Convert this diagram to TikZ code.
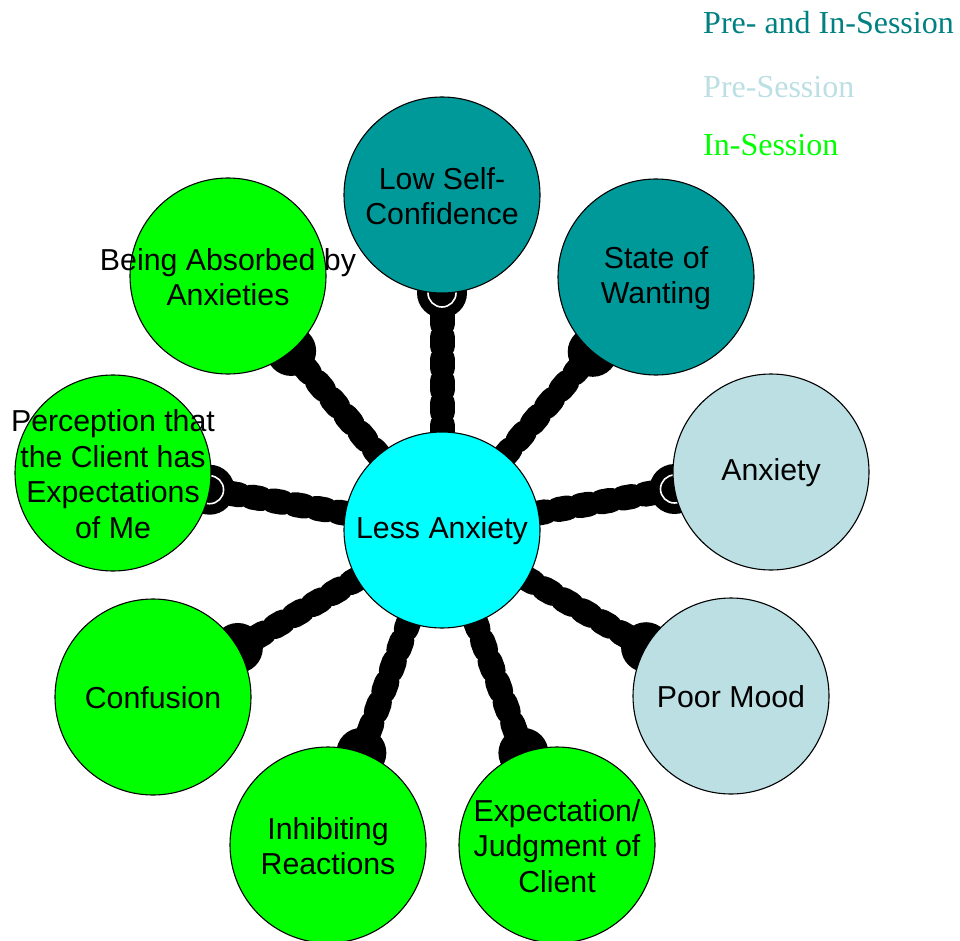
\documentclass[tikz,border=0pt]{standalone}
\usepackage{fontspec}
\setmainfont{Liberation Sans}
\newfontfamily\legendfont{Liberation Serif}
\usetikzlibrary{calc}
\definecolor{hub}{HTML}{00FFFF}
\definecolor{both}{HTML}{009999}
\definecolor{bothtext}{HTML}{008080}
\definecolor{pre}{HTML}{BBDFE3}
\definecolor{insess}{HTML}{00FF00}
\begin{document}
\begin{tikzpicture}[x=1pt, y=-1pt,
  bubble/.style={circle, draw=black, line width=1.1pt, minimum size=196pt,
    inner sep=0pt, label={[align=center, font=\fontsize{30.3}{35.5}\selectfont, yshift=-1pt]center:#1}},
  chaincore/.style={line width=21pt, black},
  chainbead/.style={line width=25pt, black, line cap=round, dash pattern=on 9pt off 13pt},
  blob/.style={fill=black},
  legend/.style={anchor=base west, inner sep=0pt, font=\legendfont\fontsize{32}{38}\selectfont}]
\useasboundingbox (0,0) rectangle (960,941);

% bubble centres
\path
  (442,530) coordinate (pc)
  (442,195) coordinate (p1)
  (656,277) coordinate (p2)
  (771,472) coordinate (p3)
  (731,696) coordinate (p4)
  (557,845) coordinate (p5)
  (328,845) coordinate (p6)
  (153,697) coordinate (p7)
  (113,473) coordinate (p8)
  (228,276) coordinate (p9);

% chain connectors from the hub to each outer bubble
\foreach \i in {1,...,9}{
  \draw[chaincore] ($(pc)!96pt!(p\i)$) -- ($(p\i)!96pt!(pc)$);
  \draw[chainbead] ($(pc)!96pt!(p\i)$) -- ($(p\i)!96pt!(pc)$);
  \fill[blob] ($(p\i)!98pt!(pc)$) circle (25pt);
}
% socket rings on three of the joints
\foreach \i in {1,3,8}{
  \draw[white, line width=1.6pt] ($(p\i)!98pt!(pc)$) circle (14pt);
}

% bubbles
\node[bubble={Less Anxiety}, fill=hub] (c) at (pc) {};
\node[bubble={Low Self-\\Confidence}, fill=both] (n1) at (p1) {};
\node[bubble={State of\\Wanting}, fill=both] (n2) at (p2) {};
\node[bubble={Anxiety}, fill=pre] (n3) at (p3) {};
\node[bubble={Poor Mood}, fill=pre] (n4) at (p4) {};
\node[bubble={Expectation/\\Judgment of\\Client}, fill=insess] (n5) at (p5) {};
\node[bubble={Inhibiting\\Reactions}, fill=insess] (n6) at (p6) {};
\node[bubble={Confusion}, fill=insess] (n7) at (p7) {};
\node[bubble={Perception that\\the Client has\\Expectations\\of Me}, fill=insess] (n8) at (p8) {};
\node[bubble={Being Absorbed by\\Anxieties}, fill=insess] (n9) at (p9) {};

% legend
\node[legend, text=bothtext] (l1) at (703,34) {Pre- and In-Session};
\node[legend, text=pre] (l2) at (703,98) {Pre-Session};
\node[legend, text=insess] (l3) at (703,156) {In-Session};
\end{tikzpicture}
\end{document}
